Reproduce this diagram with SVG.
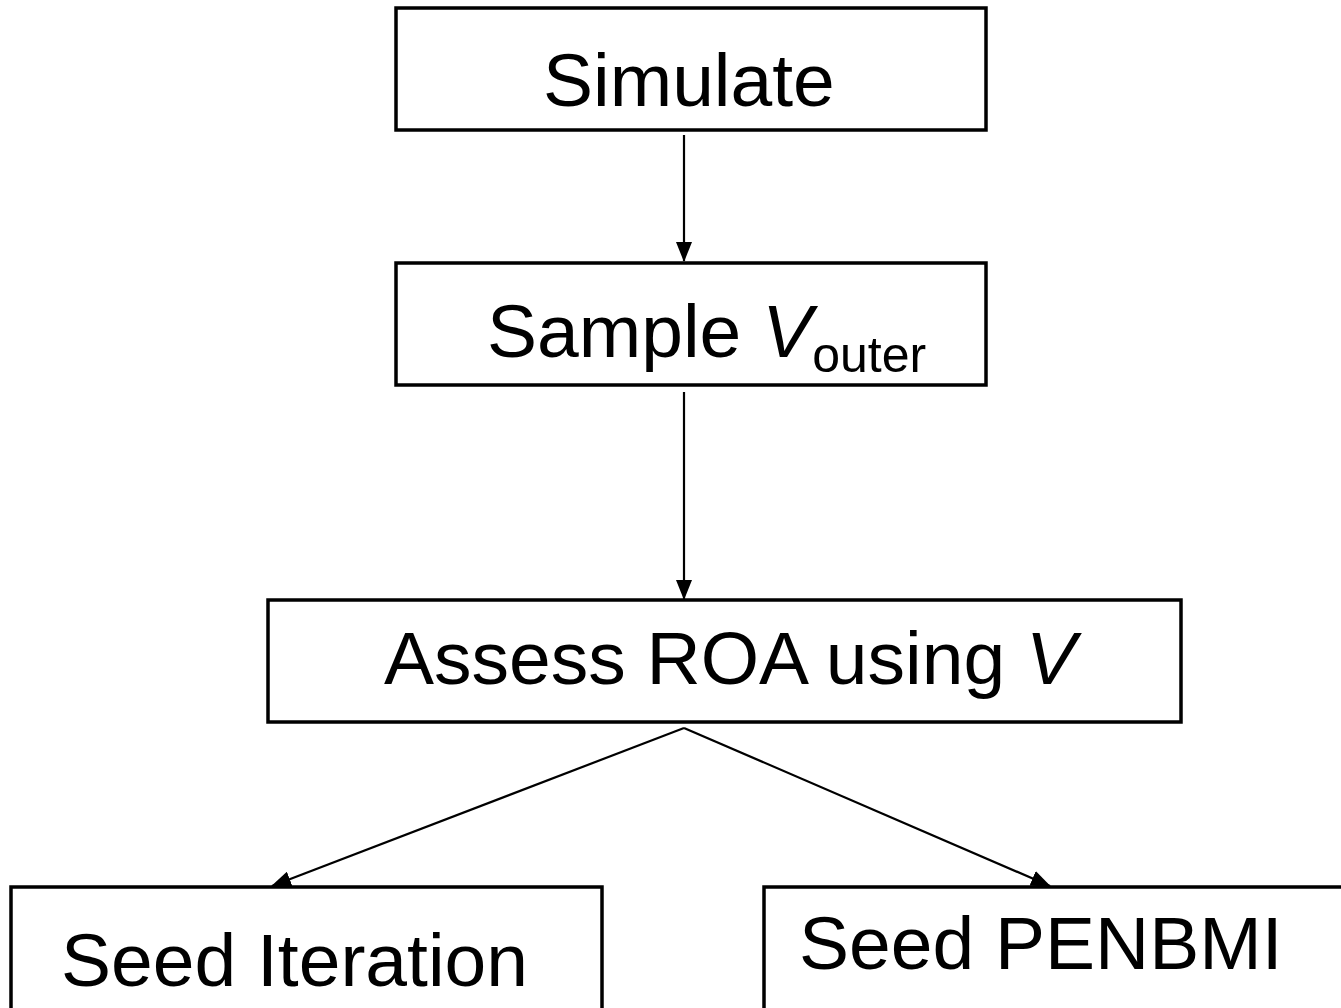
<svg xmlns="http://www.w3.org/2000/svg" width="1341" height="1008" viewBox="0 0 1341 1008">
<style>
.box{fill:#fff;stroke:#000;stroke-width:3.5}
.lbl{font-family:"Liberation Sans",Arial,sans-serif;font-size:75px;fill:#000}
.con{stroke:#000;stroke-width:2.2;fill:none;marker-end:url(#ah)}
</style>
<defs>
<marker id="ah" viewBox="0 0 20 16" refX="19" refY="8" markerWidth="20" markerHeight="16" markerUnits="userSpaceOnUse" orient="auto">
<path d="M0,0 L20,8 L0,16 Z" fill="#000"/>
</marker>
</defs>
<rect width="1341" height="1008" fill="#fff"/>
<g id="connectors">
<line class="con" x1="684" y1="135" x2="684" y2="261"/>
<line class="con" x1="684" y1="392" x2="684" y2="599"/>
<line class="con" x1="684" y1="728" x2="272" y2="886"/>
<line class="con" x1="684" y1="728" x2="1050" y2="886"/>
</g>
<g id="simulate">
<rect class="box" x="396" y="8" width="590" height="122"/>
<text class="lbl" x="543" y="106">Simulate</text>
</g>
<g id="sample">
<rect class="box" x="396" y="263" width="590" height="122"/>
<text class="lbl" x="487" y="357">Sample <tspan font-style="italic">V</tspan><tspan font-size="50" dy="15">outer</tspan></text>
</g>
<g id="assess">
<rect class="box" x="268" y="600" width="913" height="122"/>
<text class="lbl" x="384" y="684">Assess ROA using <tspan font-style="italic">V</tspan></text>
</g>
<g id="seed-iteration">
<rect class="box" x="11" y="887" width="591" height="140"/>
<text class="lbl" x="61" y="986">Seed Iteration</text>
</g>
<g id="seed-penbmi">
<rect class="box" x="764" y="887" width="600" height="140"/>
<text class="lbl" x="799" y="969">Seed PENBMI</text>
</g>
</svg>
